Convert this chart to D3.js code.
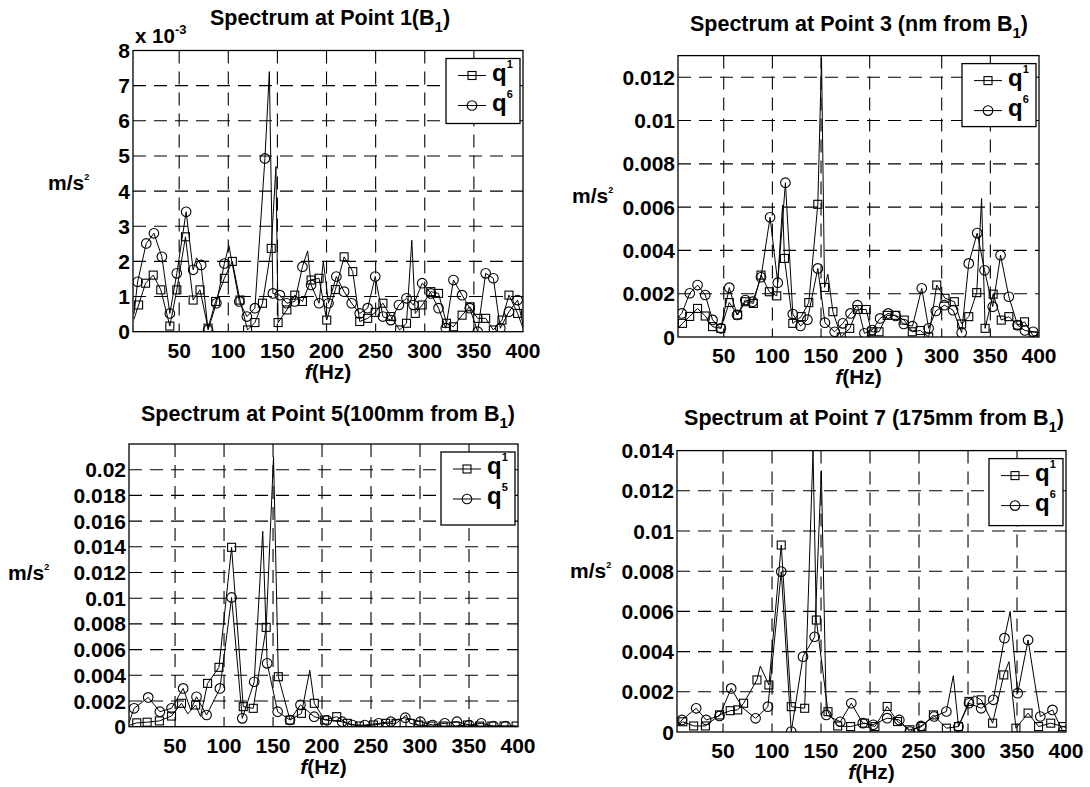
<!DOCTYPE html>
<html><head><meta charset="utf-8">
<script src="https://cdn.jsdelivr.net/npm/d3@7"></script>
<style>
body{margin:0;background:#fff}
svg{display:block}
text{font-family:"Liberation Sans",Arial,Helvetica,sans-serif;font-weight:bold;fill:#000}
</style>
</head><body>
<svg id="chart" width="1090" height="787"></svg>
<script>
// ---------- DATA (frequency in Hz, amplitude in 10^-3 m/s^2; third entry 0 = line point without marker) ----------
const freqTicks = [50,100,150,200,250,300,350,400];
const freqTickLabelsP2 = ["50","100","150","200",")","300","350","400"];
const yTicksP1 = [0,1,2,3,4,5,6,7,8];
const yTickLabelsP1 = ["0","1","2","3","4","5","6","7","8"];
const yTicksP2 = [0,2,4,6,8,10,12];
const yTickLabelsP2 = ["0","0.002","0.004","0.006","0.008","0.01","0.012"];
const yTicksP3 = [0,2,4,6,8,10,12,14,16,18,20];
const yTickLabelsP3 = ["0","0.002","0.004","0.006","0.008","0.01","0.012","0.014","0.016","0.018","0.02"];
const yTicksP4 = [0,2,4,6,8,10,12,14];
const yTickLabelsP4 = ["0","0.002","0.004","0.006","0.008","0.01","0.012","0.014"];
const seriesNames = ["q1","q6"];

const p1_q1 = [[4,0.35,0],[8.7,0.76],[15.8,1.38],[23.6,1.61],[31.3,1.19],[40.5,0.16],[47.6,1.19],[56.4,2.7],[64.2,0.9],[71.2,1.19],[79.4,0.1],[87.1,0.86],[96,1.52],[104.1,2.0],[111.9,0.9],[119.6,0.05],[127.1,0.26],[134.8,0.81],[143.7,2.37],[148.5,4.7,0],[150.7,0.26],[159.6,0.62],[167.7,1.04],[175.5,0.86],[184.3,1.47],[192.4,1.52],[200.2,0.33],[209,1.2],[217.9,2.13],[226.7,1.71],[233.8,0.29],[241.9,0.38],[249.6,0.55],[257.4,0.81],[265.5,0.43],[274.4,0.05],[281.4,0.24],[286.8,2.6,0],[290.3,0.52],[297.4,0.76],[306.2,1.14],[314,1.09],[322.1,0.24],[329.2,0.14],[338,0.47],[345.8,0.71],[353.9,0.38],[362,0.38],[369.8,0.05],[378.6,0.33],[385.7,1.04],[394.5,0.52],[400,0.1,0]];
const p1_q6 = [[4,0.5,0],[7.7,1.42],[16.5,2.51],[24.3,2.8],[32.4,2.13],[40.5,0.52],[47.6,1.66],[57.1,3.41],[64.2,1.76],[67.7,2.1,0],[72.3,1.9],[79.4,0.05],[87.9,0.81],[96,1.94],[100.6,2.45,0],[111.2,0.86],[118.9,0.43],[127.1,0.67],[137.3,4.93],[141.8,7.4,0],[145.4,1.09],[152.5,1.04],[159.6,0.81],[167.7,0.86],[175.5,1.85],[180.8,2.3,0],[184.3,1.33],[192.4,0.81],[196.7,2.0,0],[202,0.81],[210,1.57],[217.9,1.14],[225.6,0.81],[233.8,0.52],[241.9,0.67],[249.6,1.57],[257.4,0.43],[265.5,0.33],[273.7,0.76],[281.4,0.95],[288.5,0.76],[297.4,1.38],[306.2,1.09],[314,0.67],[321.4,0.1],[329.2,1.47],[338,1.04],[345.8,0.67],[353.9,0.0],[362,1.66],[369.8,1.52],[376.9,0.1],[385.7,0.57],[394.5,0.9],[400,0.2,0]];

const p2_q1 = [[3,0.4,0],[7.6,0.63],[15,0.95],[23.1,1.32],[31,0.97],[38.5,0.48],[47,0.4],[55.7,1.59],[64.3,1.02],[72.2,1.63],[80.4,1.55],[88.3,2.86],[96.9,2.09],[104.5,1.9],[110.5,6.1,0],[112.4,3.63],[121,0.63],[129.6,0.94],[137.4,1.59],[146.7,6.13],[150.5,12.9,0],[153.6,2.29],[157,2.9,0],[162.2,1.17],[170.8,0.0],[179.5,0.4],[187.4,1.27],[196.4,1.27],[201.8,0.24],[209.6,0.24],[217.9,1.0],[226.8,1.0],[261.5,0.78],[269.8,0.24],[278,0.3],[286.6,0.0],[294.9,2.4],[303.4,1.79],[313,1.63],[320.5,0.6],[327.8,0.94],[336,2.05],[341,6.4,0],[344.6,0.4],[352.9,1.98],[361.2,0.78],[369,0.94],[378,0.55],[385.1,0.7],[394,0.05],[400,0.1,0]];
const p2_q6 = [[3,0.9,0],[6.9,1.09],[15.1,2.02],[23.1,2.4],[31,1.94],[38.5,0.79],[47,0.4],[55.7,2.28],[63.6,1.02],[72.2,1.71],[79.7,1.63],[88.3,2.76],[97.6,5.53],[105.5,2.51],[113.4,7.13],[121,1.06],[128.9,0.51],[136,0.8],[146.7,3.17],[154,0.66],[164,0.24],[172.4,0.63],[180.3,1.09],[187.4,1.47],[194.6,0.17],[202.5,0.32],[210.7,0.86],[219,1.09],[226.8,0.97],[261,0.6],[270,0.5],[279.5,2.25],[286.6,0.4],[294,1.2],[302.7,1.47],[311.7,1.24],[320.5,0.2],[327.8,3.4],[336.5,4.8],[344,3.08],[352.5,1.4],[360.5,3.78],[369,1.86],[378,0.55],[385.5,0.3],[394,0.24],[400,0.2,0]];

const p3_q1 = [[3,0.1,0],[10.9,0.3],[21.5,0.35],[34,0.45],[46.4,0.83],[56.6,1.82],[63,1.0,0],[71,1.69],[76,0.8,0],[83.2,3.37],[94.8,4.62],[107.7,13.96],[119.6,1.56],[129.8,1.43],[143,7.73],[150.5,21.0,0],[155.4,3.89],[167.3,0.52],[179,1.04],[187.5,4.4,0],[192.1,1.82],[202.7,0.52],[215,0.78],[225.8,0.26],[238.2,0.05],[252.5,0.13],[264.9,0.26],[275.6,0.26],[286,0.9,0],[289.8,0.26],[298.7,0.13],[311.1,0.05],[323.5,0.05],[336,0.05],[348.4,0.13],[360.8,0.05],[373.3,0.05],[385.7,0.05],[398.1,0.05]];
const p3_q6 = [[3,0.3,0],[8.2,1.43],[22.6,2.28],[34.5,1.17],[46.4,1.43],[58.3,2.98],[66,1.3,0],[71.9,2.33],[82.2,0.91],[95.8,2.98],[107.7,10.06],[118.6,0.65],[130.8,3.5],[139.5,15.2,0],[144,4.93],[154.7,1.17],[167.3,0.52],[178,1.7],[192,0.78],[205,0.5],[220.5,0.39],[231.1,0.13],[243.6,0.13],[257.8,0.26],[270.2,0.39],[285,0.7],[300.4,0.39],[312.9,0.13],[325.3,0.26],[337.7,0.39],[350.2,0.13],[362.6,0.26],[375,0.05],[387.5,0.05],[400,0.05,0]];

const p4_q1 = [[3,0.3,0],[8.9,0.51],[20,0.3],[32,0.3],[46.4,0.85],[57.3,1.06],[65,1.1],[71,1.43],[84.6,2.59],[88,3.28,0],[96.8,2.34],[109.4,9.3],[119.6,1.26],[133.3,1.18],[141.8,14,0],[145.2,5.57],[157.1,1.01],[167,0.3],[180.2,0.27],[194.4,0.44],[205,0.27],[217.5,1.27],[228.1,0.52],[240.6,0.11],[253,0.27],[264.7,0.85],[277.9,0.19],[290.3,0.27],[301,1.52],[306,1.8,0],[313.4,1.6],[325.1,0.44],[336.5,2.84],[341.8,3.5,0],[348.9,0.19],[361.3,0.94],[372,0.27],[384.4,0.44],[396.9,0.27],[400,0.3,0]];
const p4_q6 = [[3,0.3,0],[8,0.6],[22.6,1.18],[32.8,0.6],[46.4,0.8],[58.3,2.17],[70,1.2,0],[83.2,0.68],[95.8,1.26],[109.4,7.98],[119.6,0.02],[131.6,3.75],[143.5,4.74],[150.3,13,0],[155.4,0.85],[169.7,0.51],[180.9,1.43],[192.6,0.44],[203.3,0.36],[217.5,0.69],[229.9,0.6],[240.6,0.02],[252,0.3],[265.4,0.77],[277.9,1.02],[285,2.8,0],[290.3,0.27],[301,1.43],[313.4,1.18],[325.8,1.6],[337.2,4.67],[343,6.0,0],[350.7,1.93],[361.3,4.58],[368,2.5,0],[373.8,0.77],[386.2,1.1],[396.9,0.02]];

// ---------- LAYOUT ----------
const panels = [
  {box:{l:133,r:523,t:50.5,b:331.7}, yMax:8, yTicks:yTicksP1, yLabels:yTickLabelsP1, xLabels:null,
   title:["Spectrum at Point 1(B","1",")"], titleX:330, titleY:25,
   ylab:{x:48,y:190}, legend:{h:65, names:["1","6"]}, s1:p1_q1, s2:p1_q6, exp:true},
  {box:{l:678,r:1039,t:55.6,b:337}, yMax:13, yTicks:yTicksP2, yLabels:yTickLabelsP2, xLabels:freqTickLabelsP2, cut:[231,257],
   title:["Spectrum at Point 3 (nm from B","1",")"], titleX:859, titleY:31,
   ylab:{x:572,y:203}, legend:{h:63, names:["1","6"]}, s1:p2_q1, s2:p2_q6},
  {box:{l:129,r:518,t:444,b:726.7}, yMax:22, yTicks:yTicksP3, yLabels:yTickLabelsP3, xLabels:null,
   title:["Spectrum at Point 5(100mm from B","1",")"], titleX:328, titleY:421,
   ylab:{x:8,y:580}, legend:{h:73, names:["1","5"]}, s1:p3_q1, s2:p3_q6},
  {box:{l:677,r:1066,t:450.6,b:732}, yMax:14, yTicks:yTicksP4, yLabels:yTickLabelsP4, xLabels:null,
   title:["Spectrum at Point 7 (175mm from B","1",")"], titleX:874, titleY:425,
   ylab:{x:570,y:578}, legend:{h:67, names:["1","6"]}, s1:p4_q1, s2:p4_q6}
];

const svg = d3.select("#chart");

function drawMarker(g, type, x, y){
  if(type===0){
    g.append("rect").attr("x",x-4).attr("y",y-4).attr("width",8).attr("height",8)
     .attr("fill","none").attr("stroke","#000").attr("stroke-width",1.1);
  } else {
    g.append("circle").attr("cx",x).attr("cy",y).attr("r",4.8)
     .attr("fill","none").attr("stroke","#000").attr("stroke-width",1.1);
  }
}

panels.forEach((p,i)=>{
  const B = p.box;
  let x;
  if(p.cut){
    const slope = (B.r - B.l) / ((400-3) - (p.cut[1]-p.cut[0]));
    const xa = B.l + slope*(p.cut[0]-3);
    x = d3.scaleLinear().domain([3,p.cut[0],p.cut[1],400]).range([B.l,xa,xa,B.r]);
  } else {
    x = d3.scaleLinear().domain([3,400]).range([B.l,B.r]);
  }
  const y = d3.scaleLinear().domain([0,p.yMax]).range([B.b,B.t]);
  const g = svg.append("g");

  const clipId = "clip"+i;
  svg.append("clipPath").attr("id",clipId).append("rect")
     .attr("x",B.l).attr("y",B.t).attr("width",B.r-B.l).attr("height",B.b-B.t);

  // grid
  const gx = freqTicks.filter(f=>f<400 && !(p.cut && f>p.cut[0] && f<p.cut[1]));
  g.selectAll(".vg").data(gx).join("line")
    .attr("x1",d=>x(d)).attr("x2",d=>x(d)).attr("y1",B.t).attr("y2",B.b)
    .attr("stroke","#000").attr("stroke-width",1.1).attr("stroke-dasharray","13,8");
  g.selectAll(".hg").data(p.yTicks.filter(v=>v>0 && v<p.yMax)).join("line")
    .attr("x1",B.l).attr("x2",B.r).attr("y1",d=>y(d)).attr("y2",d=>y(d))
    .attr("stroke","#000").attr("stroke-width",1.1).attr("stroke-dasharray","13,8");

  // data lines
  const line = d3.line().x(d=>x(d[0])).y(d=>y(d[1]));
  const dg = g.append("g").attr("clip-path","url(#"+clipId+")");
  [p.s1,p.s2].forEach((s,k)=>{
    dg.append("path").datum(s).attr("d",line).attr("fill","none")
      .attr("stroke","#000").attr("stroke-width",1);
    s.filter(d=>d[2]!==0).forEach(d=>drawMarker(dg,k,x(d[0]),y(d[1])));
  });

  // box
  g.append("rect").attr("x",B.l).attr("y",B.t).attr("width",B.r-B.l).attr("height",B.b-B.t)
    .attr("fill","none").attr("stroke","#000").attr("stroke-width",1.3);

  // x tick labels
  const xl = p.xLabels || freqTicks.map(String);
  g.selectAll(".xt").data(freqTicks).join("text")
    .attr("x",d=>x(d)).attr("y",B.b+26).attr("text-anchor","middle").attr("font-size",21)
    .text((d,j)=>xl[j]);
  // y tick labels
  g.selectAll(".yt").data(p.yTicks).join("text")
    .attr("x",B.l-3).attr("y",d=>y(d)+7.5).attr("text-anchor","end").attr("font-size",21)
    .text((d,j)=>p.yLabels[j]);

  // x axis title
  const xt = g.append("text").attr("x",(B.l+B.r)/2).attr("y",B.b+47).attr("text-anchor","middle").attr("font-size",21);
  xt.append("tspan").attr("font-style","italic").text("f");
  xt.append("tspan").text("(Hz)");

  // y axis title
  const yt = g.append("text").attr("x",p.ylab.x).attr("y",p.ylab.y).attr("font-size",21);
  yt.append("tspan").text("m/s");
  yt.append("tspan").attr("font-size",9).attr("dy",-10).text("2");

  // title
  const tt = g.append("text").attr("x",p.titleX).attr("y",p.titleY).attr("text-anchor","middle").attr("font-size",21.5);
  tt.append("tspan").text(p.title[0]);
  tt.append("tspan").attr("font-size",15).attr("dy",7).text(p.title[1]);
  tt.append("tspan").attr("dy",-7).text(p.title[2]);

  if(p.exp){
    const et = g.append("text").attr("x",B.l+2).attr("y",B.t-8).attr("font-size",20.5);
    et.append("tspan").text("x 10");
    et.append("tspan").attr("font-size",13).attr("dy",-9).text("-3");
  }

  // legend
  const lw = 74, lh = p.legend.h;
  const lx = B.r - 3 - lw, ly = B.t + 8;
  const lg = g.append("g");
  lg.append("rect").attr("x",lx).attr("y",ly).attr("width",lw).attr("height",lh)
    .attr("fill","#fff").attr("stroke","#000").attr("stroke-width",1.3);
  const rows = [ly+17, ly+17+30];
  seriesNames.forEach((nm,k)=>{
    lg.append("line").attr("x1",lx+12).attr("x2",lx+40).attr("y1",rows[k]).attr("y2",rows[k])
      .attr("stroke","#000").attr("stroke-width",1);
    drawMarker(lg,k,lx+26,rows[k]);
    const t = lg.append("text").attr("x",lx+46).attr("y",rows[k]+5).attr("font-size",24);
    t.append("tspan").text("q");
    t.append("tspan").attr("font-size",11).attr("dy",-13).text(p.legend.names[k]);
  });
});
</script>
</body></html>
